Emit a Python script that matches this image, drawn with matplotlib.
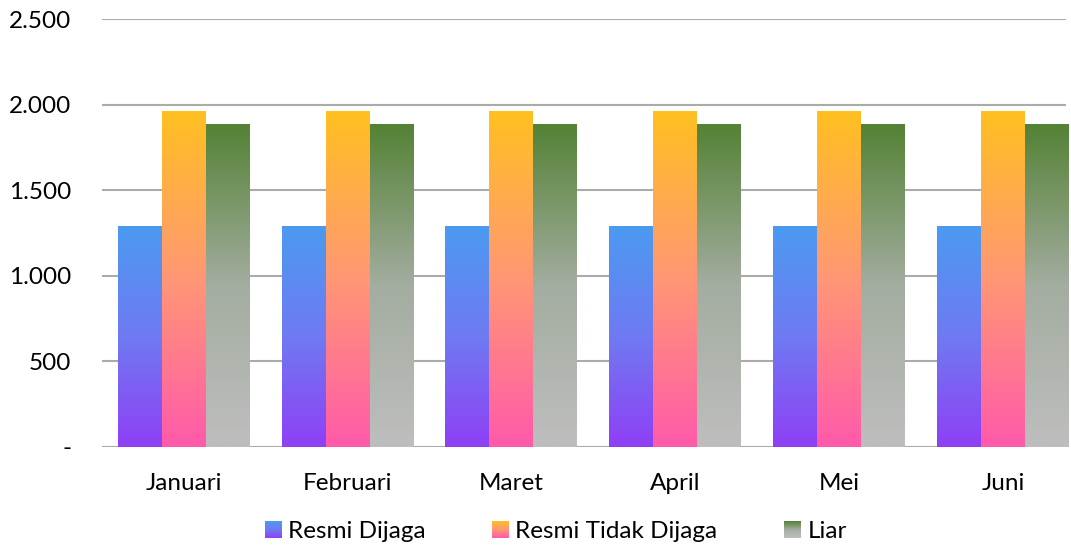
import numpy as np
import matplotlib
matplotlib.use("Agg")
import matplotlib.pyplot as plt
from matplotlib.colors import LinearSegmentedColormap
from matplotlib.legend_handler import HandlerBase
from matplotlib.image import BboxImage
from matplotlib.transforms import Bbox, TransformedBbox

plt.rcParams['font.family'] = ['Lato', 'DejaVu Sans']

# data
bulan = ["Januari", "Februari", "Maret", "April", "Mei", "Juni"]
resmi_dijaga = [1290, 1290, 1290, 1290, 1290, 1290]
resmi_tidak_dijaga = [1963, 1963, 1963, 1963, 1963, 1963]
liar = [1887, 1887, 1887, 1887, 1887, 1887]
series_names = ["Resmi Dijaga", "Resmi Tidak Dijaga", "Liar"]
yticks = [0, 500, 1000, 1500, 2000, 2500]
ytick_labels = ["-", "500", "1.000", "1.500", "2.000", "2.500"]

# gradient stops, top -> bottom
grad_stops = [
    ["#4C9AF0", "#6F7AF2", "#8F3FF5"],
    ["#FFC021", "#FF9775", "#FF5AAA"],
    ["#548235", "#A3ADA0", "#BEBEBE"],
]


def grad_array(stops, n=256):
    cm = LinearSegmentedColormap.from_list("g", stops)
    return cm(np.linspace(0, 1, n))[:, None, :3]


class GradHandler(HandlerBase):
    def create_artists(self, legend, orig_handle, xdescent, ydescent,
                       width, height, fontsize, trans):
        s = height * 0.95
        x0 = width - s - xdescent
        bb = Bbox.from_bounds(x0, -ydescent, s, s)
        img = BboxImage(TransformedBbox(bb, trans), interpolation="bilinear")
        img.set_data(orig_handle.grad)
        return [img]


class GradKey:
    def __init__(self, stops):
        self.grad = grad_array(stops)


fig = plt.figure(figsize=(10.71, 5.45), dpi=100)
ax = fig.add_axes([0.0952, 0.1804, 0.9001, 0.7847])

x = np.arange(len(bulan))
w = 0.2686
all_vals = [resmi_dijaga, resmi_tidak_dijaga, liar]
for i, vals in enumerate(all_vals):
    bars = ax.bar(x + (i - 1) * w, vals, w, color="none", edgecolor="none", zorder=3)
    g = grad_array(grad_stops[i])
    for b in bars:
        bx, by = b.get_x(), b.get_y()
        im = ax.imshow(g, extent=[bx, bx + b.get_width(), by, by + b.get_height()],
                       aspect="auto", interpolation="bilinear", zorder=3)
        im.set_clip_path(b)

ax.set_xlim(-0.5, 5.385)
ax.set_ylim(0, 2500)
ax.set_yticks(yticks)
ax.set_yticklabels(ytick_labels)
ax.set_xticks(x)
ax.set_xticklabels(bulan)
ax.yaxis.grid(True, color="#ABABAB", linewidth=1.5, zorder=0)
ax.set_axisbelow(True)
for s in ["top", "right", "left", "bottom"]:
    ax.spines[s].set_visible(False)
ax.tick_params(axis="both", length=0, labelsize=17.5, colors="#000000")
ax.tick_params(axis="y", pad=22)
ax.tick_params(axis="x", pad=19)

keys = [GradKey(s) for s in grad_stops]
fig.legend(keys, series_names, handler_map={GradKey: GradHandler()},
           loc="center", bbox_to_anchor=(0.519, 0.024), ncol=3, frameon=False,
           fontsize=17.5, handlelength=0.66, handletextpad=0.29, columnspacing=2.75,
           borderpad=0, borderaxespad=0)

fig.savefig("out.png", dpi=100)
